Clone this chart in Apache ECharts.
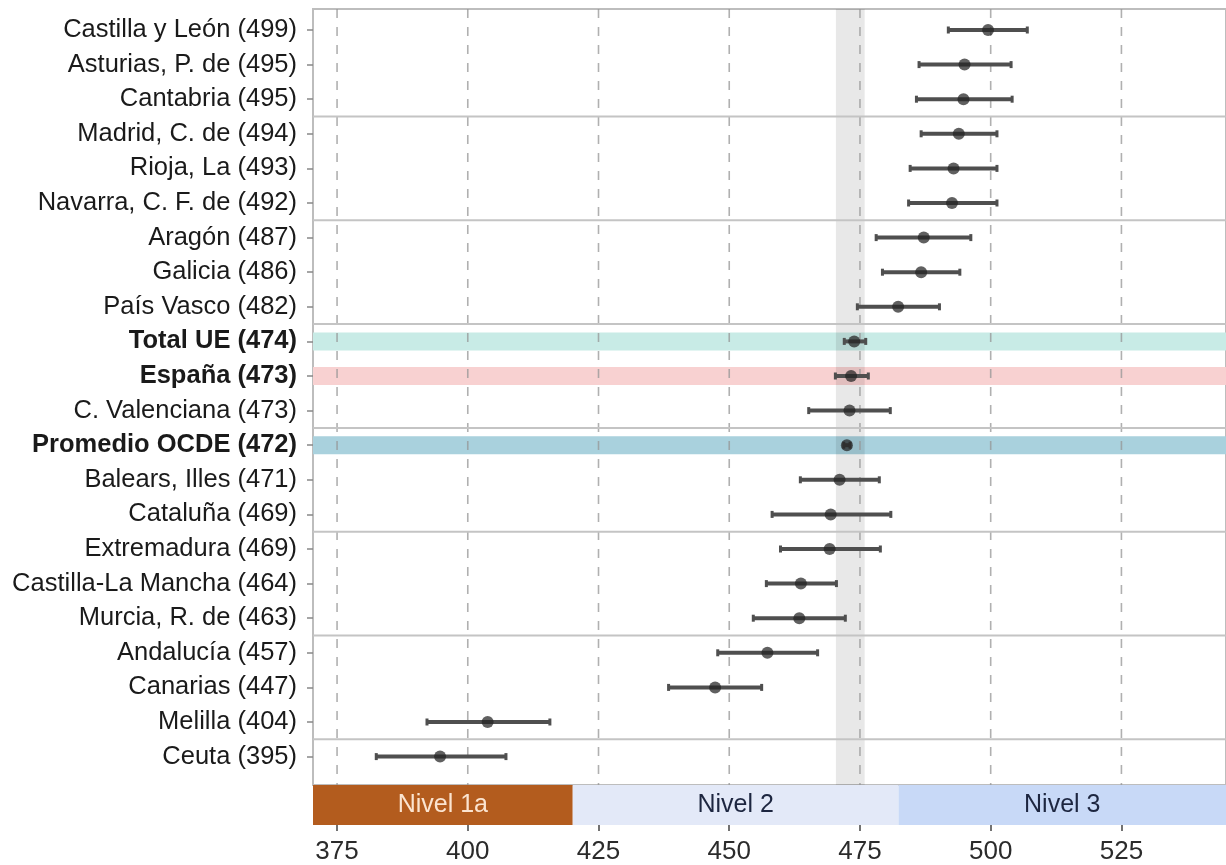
<!DOCTYPE html>
<html><head><meta charset="utf-8">
<script src="https://cdn.jsdelivr.net/npm/echarts@6/dist/echarts.min.js"></script>
<style>html,body{margin:0;padding:0;background:#fff}#c{width:1226px;height:865px}</style>
</head><body><div id="c"></div>
<script>
// ---------- data ----------
const regions = ['Castilla y León (499)', 'Asturias, P. de (495)', 'Cantabria (495)', 'Madrid, C. de (494)', 'Rioja, La (493)', 'Navarra, C. F. de (492)', 'Aragón (487)', 'Galicia (486)', 'País Vasco (482)', 'Total UE (474)', 'España (473)', 'C. Valenciana (473)', 'Promedio OCDE (472)', 'Balears, Illes (471)', 'Cataluña (469)', 'Extremadura (469)', 'Castilla-La Mancha (464)', 'Murcia, R. de (463)', 'Andalucía (457)', 'Canarias (447)', 'Melilla (404)', 'Ceuta (395)'];
const means = [499.5, 495.0, 494.8, 493.9, 492.9, 492.6, 487.2, 486.7, 482.3, 473.9, 473.3, 473.0, 472.5, 471.1, 469.4, 469.2, 463.7, 463.4, 457.3, 447.3, 403.8, 394.7];
const lower = [491.9, 486.3, 485.8, 486.7, 484.6, 484.3, 478.1, 479.3, 474.5, 472.0, 470.3, 465.2, 471.9, 463.6, 458.2, 459.8, 457.1, 454.6, 447.8, 438.4, 392.2, 382.5];
const upper = [507.0, 503.9, 504.1, 501.2, 501.2, 501.2, 496.2, 494.1, 490.2, 476.1, 476.6, 480.8, 473.1, 478.7, 480.9, 478.9, 470.5, 472.2, 466.9, 456.2, 415.7, 407.3];
const highlighted = ['Total UE (474)', 'España (473)', 'Promedio OCDE (472)'];
const refBand = [470.4, 475.9];
const xTicks = [375, 400, 425, 450, 475, 500, 525];
const levelNames = ['Nivel 1a', 'Nivel 2', 'Nivel 3'];
const levelFrom = [357.77, 420.07, 482.38];
const levelTo = [420.07, 482.38, 544.68];
const groupSize = 3;

// ---------- style ----------
const X_MIN = 370.4, X_MAX = 545;
const FONT = '"Liberation Sans", Arial, Helvetica, sans-serif';
const bandColors = {'Total UE (474)': '#c8ebe6', 'España (473)': '#f8d1d1', 'Promedio OCDE (472)': '#a9d1dd'};
const levelColors = ['#b35c1e', '#e3e9f8', '#c8d9f7'];
const levelTextColors = ['#fbe4d0', '#1d2640', '#1d2640'];

const chart = echarts.init(document.getElementById('c'), null, {renderer: 'canvas'});

const hiddenX = (g) => ({type: 'value', gridIndex: g, min: X_MIN, max: X_MAX, show: false});

const boundaries = [];
for (let k = groupSize; k < regions.length; k += groupSize) boundaries.push(k - 1);

const option = {
  animation: false,
  grid: [
    {left: 313, right: 0, top: 12.7, height: 761.2, containLabel: false},
    {left: 313, right: 0, top: 9, height: 776, show: true, borderColor: '#bdbdbd', borderWidth: 2, backgroundColor: 'transparent'},
    {left: 313, right: 0, top: 785, height: 40}
  ],
  xAxis: [
    hiddenX(0),
    hiddenX(1),
    {type: 'value', gridIndex: 2, min: X_MIN, max: X_MAX,
      axisLine: {show: false}, splitLine: {show: false},
      axisTick: {show: true, customValues: xTicks, length: 6, lineStyle: {color: '#444', width: 1.5}},
      axisLabel: {customValues: xTicks, fontSize: 26, color: '#2b2b2b', fontFamily: FONT, margin: 14}}
  ],
  yAxis: [
    {type: 'category', gridIndex: 0, data: regions, inverse: true,
      axisLine: {show: false}, splitLine: {show: false},
      axisTick: {show: true, alignWithLabel: true, length: 6, lineStyle: {color: '#888', width: 1.5}},
      axisLabel: {fontSize: 25.5, color: '#1a1a1a', fontFamily: FONT, margin: 16, interval: 0,
        formatter: v => highlighted.includes(v) ? '{b|' + v + '}' : v,
        rich: {b: {fontWeight: 'bold', fontSize: 25.5, color: '#1a1a1a', fontFamily: FONT}}}},
    {type: 'value', gridIndex: 1, min: 0, max: 1, show: false},
    {type: 'value', gridIndex: 2, min: 0, max: 1, show: false}
  ],
  series: [
    // highlighted row bands
    {type: 'custom', xAxisIndex: 0, yAxisIndex: 0, z: 1, silent: true,
      data: regions.map((r, i) => [X_MIN, i, r]).filter(d => highlighted.includes(d[2])),
      encode: {x: 0, y: 1},
      renderItem: (params, api) => {
        const cs = params.coordSys;
        const p = api.coord([X_MIN, api.value(1)]);
        const name = regions[api.value(1)];
        return {type: 'rect', shape: {x: cs.x, y: p[1] - 9, width: cs.width, height: 18},
          style: {fill: bandColors[name]}};
      }},
    // reference (España) band
    {type: 'custom', xAxisIndex: 1, yAxisIndex: 1, z: 2, silent: true,
      data: [[refBand[0], refBand[1]]],
      encode: {x: [0, 1]},
      renderItem: (params, api) => {
        const cs = params.coordSys;
        const a = api.coord([api.value(0), 0]);
        const b = api.coord([api.value(1), 0]);
        return {type: 'rect', shape: {x: a[0], y: cs.y, width: b[0] - a[0], height: cs.height},
          style: {fill: 'rgba(0,0,0,0.09)'}};
      }},
    // vertical dashed gridlines
    {type: 'custom', xAxisIndex: 1, yAxisIndex: 1, z: 3, silent: true,
      data: xTicks.map(v => [v]),
      encode: {x: 0},
      renderItem: (params, api) => {
        const cs = params.coordSys;
        const p = api.coord([api.value(0), 0]);
        return {type: 'line', shape: {x1: p[0], y1: cs.y, x2: p[0], y2: cs.y + cs.height},
          style: {stroke: 'rgba(150,150,150,0.75)', lineWidth: 1.6, lineDash: [9, 9]}};
      }},
    // group separators
    {type: 'custom', xAxisIndex: 0, yAxisIndex: 0, z: 3, silent: true,
      data: boundaries.map(b => [X_MIN, b]),
      encode: {x: 0, y: 1},
      renderItem: (params, api) => {
        const cs = params.coordSys;
        const p = api.coord([X_MIN, api.value(1)]);
        const h = api.size([0, 1])[1];
        const y = p[1] + h / 2;
        return {type: 'line', shape: {x1: cs.x, y1: y, x2: cs.x + cs.width, y2: y},
          style: {stroke: '#c4c4c4', lineWidth: 2}};
      }},
    // error bars
    {type: 'custom', xAxisIndex: 0, yAxisIndex: 0, z: 5, silent: true,
      data: regions.map((r, i) => [lower[i], upper[i], i]),
      encode: {x: [0, 1], y: 2},
      renderItem: (params, api) => {
        const a = api.coord([api.value(0), api.value(2)]);
        const b = api.coord([api.value(1), api.value(2)]);
        const st = {stroke: '#4f4f4f', lineWidth: 4};
        return {type: 'group', children: [
          {type: 'line', shape: {x1: a[0], y1: a[1], x2: b[0], y2: b[1]}, style: st},
          {type: 'line', shape: {x1: a[0], y1: a[1] - 3.5, x2: a[0], y2: a[1] + 3.5}, style: {stroke: '#4f4f4f', lineWidth: 3}},
          {type: 'line', shape: {x1: b[0], y1: b[1] - 3.5, x2: b[0], y2: b[1] + 3.5}, style: {stroke: '#4f4f4f', lineWidth: 3}}
        ]};
      }},
    // means
    {type: 'scatter', xAxisIndex: 0, yAxisIndex: 0, z: 6, silent: true,
      data: means.map((m, i) => [m, i]),
      symbol: 'circle', symbolSize: 12,
      itemStyle: {color: 'rgba(35,35,35,0.9)'}},
    // level bar
    {type: 'custom', xAxisIndex: 2, yAxisIndex: 2, z: 2, silent: true,
      data: levelNames.map((n, i) => [levelFrom[i], levelTo[i], i]),
      encode: {x: [0, 1]},
      renderItem: (params, api) => {
        const cs = params.coordSys;
        const i = api.value(2);
        let x1 = api.coord([api.value(0), 0])[0];
        let x2 = api.coord([api.value(1), 0])[0];
        x1 = Math.max(x1, cs.x); x2 = Math.min(x2, cs.x + cs.width);
        if (i === levelNames.length - 1) x2 = cs.x + cs.width;
        return {type: 'group', children: [
          {type: 'rect', shape: {x: x1, y: cs.y, width: x2 - x1, height: cs.height}, style: {fill: levelColors[i]}},
          {type: 'text', x: (x1 + x2) / 2, y: cs.y + cs.height / 2,
            style: {text: levelNames[i], fill: levelTextColors[i], font: '25px ' + FONT, align: 'center', verticalAlign: 'middle'}}
        ]};
      }}
  ]
};
chart.setOption(option);
</script>
</body></html>
